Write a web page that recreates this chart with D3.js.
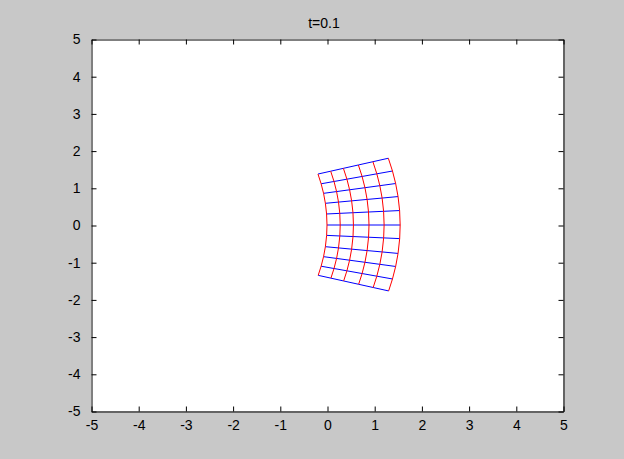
<!DOCTYPE html>
<html>
<head>
<meta charset="utf-8">
<script src="https://cdn.jsdelivr.net/npm/d3@7"></script>
<style>
html,body{margin:0;padding:0;background:#c8c8c8;}
svg{display:block;}
text{font-family:"Liberation Sans",Arial,sans-serif;fill:#000;}
</style>
</head>
<body>
<svg id="chart" width="624" height="459"></svg>
<script>
// ---- data ----
const title = "t=0.1";
const xTicks = [-5, -4, -3, -2, -1, 0, 1, 2, 3, 4, 5];
const yTicks = [-5, -4, -3, -2, -1, 0, 1, 2, 3, 4, 5];
// grid is a fan: arcs (red) of given radius around a centre on the x axis,
// rays (blue) at given angles (degrees) from that centre
const fanCenterX = -5.0;
const arcRadii = [5.0, 5.28, 5.56, 5.89, 6.21, 6.55];
const rayAngles = [15.9, 12.8, 9.8, 6.7, 3.4, 0, -3.2, -6.7, -9.8, -12.8, -15.7];

// ---- layout ----
const W = 624, H = 459;
const L = 91, R = 563, T = 39, B = 411;
const svg = d3.select("#chart");
svg.append("rect").attr("width", W).attr("height", H).attr("fill", "#c8c8c8");

const x = d3.scaleLinear().domain([-5, 5]).range([L, R]);
const y = d3.scaleLinear().domain([-5, 5]).range([B, T]);

svg.append("rect").attr("x", L).attr("y", T).attr("width", R - L).attr("height", B - T).attr("fill", "#fff");

const node = (r, a) => {
  const t = a * Math.PI / 180;
  return [fanCenterX + r * Math.cos(t), r * Math.sin(t)];
};
const line = d3.line().x(d => x(d[0])).y(d => y(d[1]));
const plot = svg.append("g");

// blue rays
rayAngles.forEach(a => {
  plot.append("path").attr("d", line(arcRadii.map(r => node(r, a))))
    .attr("fill", "none").attr("stroke", "#0000ff").attr("stroke-width", 1);
});
// red arcs
arcRadii.forEach(r => {
  plot.append("path").attr("d", line(rayAngles.map(a => node(r, a))))
    .attr("fill", "none").attr("stroke", "#ff0000").attr("stroke-width", 1);
});

// ---- axes (MATLAB style box, inward ticks) ----
const tl = 5;
const fmt = d => String(d);
const xb = d3.axisBottom(x).tickValues(xTicks).tickFormat(fmt).tickSizeInner(-tl).tickSizeOuter(0).tickPadding(9);
const xt = d3.axisTop(x).tickValues(xTicks).tickSizeInner(-tl).tickSizeOuter(0).tickFormat("");
const yl = d3.axisLeft(y).tickValues(yTicks).tickFormat(fmt).tickSizeInner(-tl).tickSizeOuter(0).tickPadding(11);
const yr = d3.axisRight(y).tickValues(yTicks).tickSizeInner(-tl).tickSizeOuter(0).tickFormat("");

function style(g) {
  g.selectAll("path.domain").attr("stroke", "#000");
  g.selectAll(".tick line").attr("stroke", "#000");
  g.selectAll(".tick text").style("font-family", "Liberation Sans, Arial, sans-serif").style("font-size", "14px").attr("fill", "#000");
}
svg.append("g").attr("transform", `translate(0.5,${B + 0.5})`).call(xb).call(style);
svg.append("g").attr("transform", `translate(0.5,${T + 0.5})`).call(xt).call(style);
svg.append("g").attr("transform", `translate(${L + 0.5},0.5)`).call(yl).call(style);
svg.append("g").attr("transform", `translate(${R + 0.5},0.5)`).call(yr).call(style);

svg.append("text").attr("x", (L + R) / 2 - 3).attr("y", 28).attr("text-anchor", "middle")
  .style("font-size", "14px").text(title);
</script>
</body>
</html>
